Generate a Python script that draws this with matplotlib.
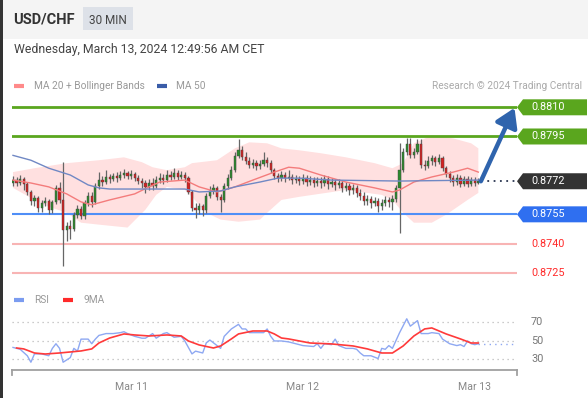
import numpy as np
import matplotlib.pyplot as plt
from matplotlib.patches import Rectangle, Polygon

plt.rcParams['font.family'] = ['Roboto', 'DejaVu Sans']

# ---- data (30 min candles, USD/CHF) ----
first_open = 0.87711
closes = [87726, 87711, 87731, 87706, 87665, 87619, 87635, 87584, 87609, 87619,
          87574, 87614, 87686, 87624, 87472, 87492, 87477, 87548, 87579, 87543,
          87609, 87645, 87614, 87696, 87726, 87716, 87742, 87731, 87747, 87736,
          87752, 87762, 87747, 87757, 87736, 87721, 87711, 87691, 87711, 87696,
          87726, 87736, 87726, 87752, 87742, 87762, 87742, 87752, 87736, 87665,
          87584, 87574, 87594, 87574, 87645, 87670, 87686, 87640, 87624, 87696,
          87736, 87777, 87848, 87879, 87843, 87823, 87803, 87813, 87798, 87808,
          87828, 87813, 87777, 87747, 87736, 87752, 87736, 87742, 87726, 87731,
          87721, 87736, 87716, 87726, 87711, 87721, 87711, 87731, 87706, 87716,
          87701, 87711, 87686, 87696, 87675, 87686, 87660, 87645, 87619, 87630,
          87609, 87619, 87594, 87609, 87624, 87614, 87630, 87686, 87777, 87869,
          87909, 87853, 87869, 87909, 87803, 87798, 87823, 87838, 87818, 87838,
          87787, 87757, 87736, 87716, 87736, 87706, 87731, 87706, 87726, 87711,
          87720]
highs = [87747, 87742, 87752, 87742, 87716, 87675, 87650, 87645, 87624, 87640,
         87630, 87624, 87701, 87716, 87818, 87512, 87523, 87563, 87599, 87594,
         87624, 87665, 87665, 87711, 87767, 87747, 87777, 87757, 87762, 87767,
         87772, 87782, 87772, 87777, 87767, 87752, 87736, 87726, 87731, 87736,
         87747, 87762, 87757, 87777, 87772, 87787, 87777, 87772, 87767, 87747,
         87675, 87609, 87609, 87604, 87660, 87696, 87706, 87696, 87655, 87711,
         87757, 87798, 87869, 87935, 87899, 87869, 87843, 87833, 87828, 87828,
         87869, 87843, 87828, 87787, 87762, 87772, 87767, 87777, 87757, 87752,
         87747, 87757, 87752, 87747, 87742, 87742, 87742, 87752, 87747, 87736,
         87731, 87731, 87726, 87716, 87711, 87706, 87701, 87680, 87665, 87650,
         87645, 87640, 87635, 87630, 87645, 87640, 87650, 87701, 87915, 87889,
         87940, 87940, 87889, 87935, 87935, 87828, 87848, 87853, 87848, 87859,
         87848, 87798, 87772, 87752, 87757, 87752, 87747, 87747, 87742, 87742,
         87736]
lows = [87696, 87696, 87701, 87675, 87650, 87599, 87594, 87563, 87563, 87594,
        87553, 87558, 87604, 87609, 87283, 87411, 87421, 87462, 87533, 87528,
        87528, 87594, 87589, 87604, 87680, 87696, 87706, 87711, 87721, 87716,
        87726, 87736, 87731, 87731, 87721, 87706, 87686, 87660, 87675, 87675,
        87686, 87711, 87706, 87716, 87726, 87731, 87726, 87731, 87716, 87655,
        87568, 87533, 87553, 87543, 87558, 87635, 87655, 87624, 87563, 87614,
        87680, 87726, 87767, 87838, 87828, 87808, 87787, 87787, 87777, 87782,
        87798, 87792, 87762, 87731, 87716, 87721, 87716, 87726, 87706, 87711,
        87701, 87706, 87696, 87701, 87691, 87696, 87686, 87696, 87680, 87691,
        87675, 87686, 87665, 87670, 87650, 87655, 87640, 87624, 87599, 87599,
        87584, 87594, 87563, 87574, 87594, 87589, 87574, 87614, 87456, 87767,
        87853, 87838, 87838, 87859, 87787, 87777, 87787, 87803, 87798, 87808,
        87772, 87742, 87716, 87696, 87701, 87691, 87696, 87691, 87696, 87696,
        87706]

ma50_idx = [0, 5, 10, 16, 21, 24, 27, 48, 52, 58, 62, 69, 74, 80, 89, 108, 130]
ma50_val = [87853, 87828, 87787, 87752, 87701, 87686, 87680, 87680, 87665, 87670,
            87691, 87716, 87736, 87736, 87726, 87721, 87726]
ma20_idx = [0, 5, 10, 15, 19, 22, 27, 34, 38, 41, 48, 52, 57, 62, 67, 73, 77, 80,
            86, 93, 101, 106, 108, 112, 117, 123, 127, 130]
ma20_val = [87726, 87711, 87691, 87655, 87614, 87599, 87624, 87655, 87691, 87716,
            87726, 87691, 87665, 87691, 87726, 87767, 87792, 87787, 87752, 87716,
            87686, 87665, 87675, 87716, 87742, 87767, 87787, 87767]
bbu_idx = [0, 6, 15, 24, 31, 36, 39, 43, 48, 50, 57, 62, 66, 71, 75, 80, 86, 93,
           101, 106, 109, 112, 117, 123, 128, 130]
bbu_val = [87767, 87787, 87813, 87828, 87843, 87818, 87792, 87777, 87792, 87813,
           87828, 87889, 87920, 87915, 87889, 87879, 87864, 87843, 87813, 87787,
           87813, 87915, 87955, 87940, 87915, 87889]
bbl_idx = [0, 6, 10, 15, 19, 24, 32, 37, 40, 43, 48, 50, 54, 58, 63, 69, 71, 75,
           80, 93, 103, 106, 109, 112, 117, 121, 127, 130]
bbl_val = [87686, 87624, 87589, 87558, 87507, 87497, 87482, 87574, 87650, 87691,
           87675, 87640, 87558, 87523, 87512, 87523, 87558, 87624, 87640, 87675,
           87650, 87624, 87558, 87507, 87507, 87548, 87624, 87660]

rsi_idx = [0, 1, 2, 4, 5, 6, 8, 10, 11, 12, 13, 14, 16, 17, 18, 19, 21, 22, 23, 24,
           26, 28, 30, 31, 32, 34, 36, 37, 39, 40, 42, 43, 45, 47, 48, 50, 51, 53,
           54, 55, 57, 58, 59, 61, 63, 64, 65, 66, 68, 70, 71, 72, 73, 75, 77, 81,
           84, 85, 86, 87, 89, 90, 91, 93, 95, 96, 97, 98, 100, 102, 103, 104, 105,
           106, 108, 110, 111, 113, 114, 116, 117, 119, 120, 122, 124, 125, 126,
           127, 128, 129, 130]
rsi_val = [43, 42, 41, 34, 27, 36, 36, 34, 42, 47, 42, 27, 32, 42, 39, 52, 52, 47,
           52, 56, 58, 58, 59, 60, 58, 55, 53, 53, 58, 53, 58, 59, 54, 55, 50, 36,
           39, 37, 48, 51, 45, 42, 55, 63, 68, 63, 63, 59, 59, 59, 63, 55, 50, 50,
           49, 45, 44, 47, 42, 47, 46, 52, 45, 42, 42, 41, 37, 34, 34, 31, 42, 41,
           45, 42, 59, 74, 66, 72, 58, 58, 59, 58, 52, 47, 45, 46, 44, 50, 47, 46, 47]
ma9_idx = [1, 3, 6, 9, 13, 16, 19, 22, 24, 27, 31, 34, 38, 43, 47, 49, 52, 56, 58,
           61, 63, 67, 71, 73, 75, 77, 83, 89, 95, 99, 103, 106, 109, 112, 115, 117,
           121, 125, 128, 130]
ma9_val = [42.4, 41.4, 37, 35.9, 37, 38.1, 39.2, 41.4, 47.8, 53.2, 57.6, 56.5, 55.4,
           56.5, 55.4, 50, 45.7, 42.4, 44.6, 52.2, 57.6, 60.8, 60.8, 57.6, 53.2,
           52.2, 47.8, 46.8, 44.6, 41.4, 37, 37, 44.6, 55.4, 63, 64.1, 57.6, 52.2,
           47.8, 47.8]

res_levels = [0.8810, 0.8795]
sup_levels = [0.8755]
red_levels = [0.8740, 0.8725]
last_price = 0.8772
day_idx = [33, 81, 129]
day_labels = ['Mar 11', 'Mar 12', 'Mar 13']
rsi_grid = [70, 50, 30]

c = np.array(closes) / 1e5
h = np.array(highs) / 1e5
l = np.array(lows) / 1e5
o = np.r_[first_open, c[:-1]]
x = np.arange(len(c))

W, H = 588, 398
fig = plt.figure(figsize=(W / 100, H / 100), dpi=100)

bg = fig.add_axes([0, 0, 1, 1], zorder=0)
bg.set_xlim(0, W)
bg.set_ylim(H, 0)
bg.set_axis_off()
bg.add_patch(Rectangle((0, 0), W, 39, color='#f4f4f4', lw=0))
bg.add_patch(Rectangle((0, 0), 2.5, H, color='#333333', lw=0))
bg.add_patch(Rectangle((83, 7), 50, 23, color='#dde1e8', lw=0))
bg.text(13, 20, 'USD/CHF', fontsize=10.5, fontweight='bold', color='#333333', va='center')
bg.text(108, 20, '30 MIN', fontsize=8.5, color='#444444', ha='center', va='center')
bg.text(14, 49, 'Wednesday, March 13, 2024 12:49:56 AM CET', fontsize=8.8,
        color='#444444', va='center')
bg.plot([14, 24], [86, 86], lw=3, color='#ff8a8a', solid_capstyle='butt')
bg.text(34, 86, 'MA 20 + Bollinger Bands', fontsize=7.3, color='#999999', va='center')
bg.plot([157, 167], [86, 86], lw=3, color='#3a5ca8', solid_capstyle='butt')
bg.text(176, 86, 'MA 50', fontsize=7.3, color='#999999', va='center')
bg.text(582, 86, 'Research \u00a9 2024 Trading Central', fontsize=7.3,
        color='#aaaaaa', va='center', ha='right')
bg.plot([14, 24], [300, 300], lw=3, color='#7b9cf0', solid_capstyle='butt')
bg.text(34, 300, 'RSI', fontsize=7.3, color='#999999', va='center')
bg.plot([63, 73], [300, 300], lw=3, color='#ff2a2a', solid_capstyle='butt')
bg.text(83, 300, '9MA', fontsize=7.3, color='#999999', va='center')

# ---- price panel ----
pxp = 19460.0  # pixels per price unit
ax = fig.add_axes([12 / W, (H - 285) / H, 505 / W, 190 / H], zorder=1)
ax.patch.set_alpha(0)
ax.set_axis_off()
ax.set_xlim(-0.28, 140.8)
ax.set_ylim(0.8810 - (285 - 107.3) / pxp, 0.8810 + (107.3 - 95) / pxp)

ax.fill(np.r_[bbu_idx, bbl_idx[::-1]],
        np.r_[bbu_val, bbl_val[::-1]] / 1e5, color='#ffe0e0', lw=0, zorder=1)

for lv in res_levels:
    ax.axhline(lv, color='#5aa61e', lw=2, zorder=1)
for lv in sup_levels:
    ax.axhline(lv, color='#4f8ef7', lw=1.5, zorder=1)
for lv in red_levels:
    ax.axhline(lv, color='#f8b4b4', lw=1.5, zorder=1)

up = c >= o
ax.vlines(x, np.minimum(l, np.minimum(o, c)), np.maximum(h, np.maximum(o, c)),
          color='#666666', lw=0.9, zorder=2)
ax.bar(x[up], (c - o)[up], bottom=o[up], width=0.62, color='#2e8a2e',
       edgecolor='#444444', lw=0.3, zorder=3)
ax.bar(x[~up], (c - o)[~up], bottom=o[~up], width=0.62, color='#d42222',
       edgecolor='#444444', lw=0.3, zorder=3)

ax.plot(ma20_idx, np.array(ma20_val) / 1e5, color='#f47c7c', lw=1, zorder=4)
ax.plot(ma50_idx, np.array(ma50_val) / 1e5, color='#7088c4', lw=1, zorder=4)

n = len(c)
xr = ax.get_xlim()[1]
ax.plot([n - 0.2, xr], [last_price, last_price], ls=(0, (1, 2.5)), color='#2a3550',
        lw=1.3, zorder=4)
ax.annotate('', xy=(xr - 0.7, res_levels[0] - 0.00003), xytext=(n - 0.3, last_price),
            arrowprops=dict(arrowstyle='-|>,head_length=0.8,head_width=0.5',
                            lw=3.2, color='#2f64ad', mutation_scale=14,
                            shrinkA=0, shrinkB=0), zorder=5)

ytr = ax.get_yaxis_transform()
hh = 8 / pxp


def tag(level, color):
    pts = [(1.0, level), (6 / 505 + 1, level + hh), (575 / 505, level + hh),
           (575 / 505, level - hh), (6 / 505 + 1, level - hh)]
    ax.add_patch(Polygon(pts, closed=True, transform=ytr, color=color, lw=0,
                         clip_on=False, zorder=5))
    ax.text(1 + 14 / 505, level, f'{level:.4f}', transform=ytr, color='white',
            fontsize=7.8, va='center', ha='left', clip_on=False, zorder=6)


for lv in res_levels:
    tag(lv, '#5aa61e')
tag(last_price, '#333333')
for lv in sup_levels:
    tag(lv, '#2f6ff0')
for lv in red_levels:
    ax.text(1 + 14 / 505, lv, f'{lv:.4f}', transform=ytr, color='#ff2a2a',
            fontsize=7.8, va='center', ha='left', clip_on=False)

# ---- RSI panel ----
ax2 = fig.add_axes([12 / W, 28 / H, 505 / W, 65 / H], zorder=1)
ax2.patch.set_alpha(0)
ax2.set_xlim(-0.28, 140.8)
ax2.set_ylim(18.6, 88.9)
for s in ['top', 'left', 'right']:
    ax2.spines[s].set_visible(False)
ax2.spines['bottom'].set_color('#a0a0a0')
ax2.spines['bottom'].set_linewidth(1.3)
for fx in (0, 1):
    ax2.plot([fx, fx], [0, -0.08], transform=ax2.transAxes, color='#a0a0a0',
             lw=1.3, clip_on=False)
ax2.set_yticks([])
ax2.set_xticks(day_idx, day_labels)
ax2.tick_params(axis='x', length=0, pad=9, labelsize=7.6, labelcolor='#888888')
for g in rsi_grid:
    ax2.axhline(g, color='#bbbbbb', lw=0.9, ls=(0, (1, 3)))
    ax2.text(1 + 14 / 505, g, str(g), transform=ax2.get_yaxis_transform(),
             fontsize=7.8, color='#777777', va='center', clip_on=False)
ax2.plot(rsi_idx, rsi_val, color='#8ea8f2', lw=1)
ax2.plot(ma9_idx, ma9_val, color='#ff3a3a', lw=1.2)
ax2.plot([rsi_idx[-1], 140.8], [rsi_val[-1], rsi_val[-1]], color='#8ea8f2',
         lw=1, ls=(0, (1, 3)))

fig.savefig('out.png', dpi=100)
